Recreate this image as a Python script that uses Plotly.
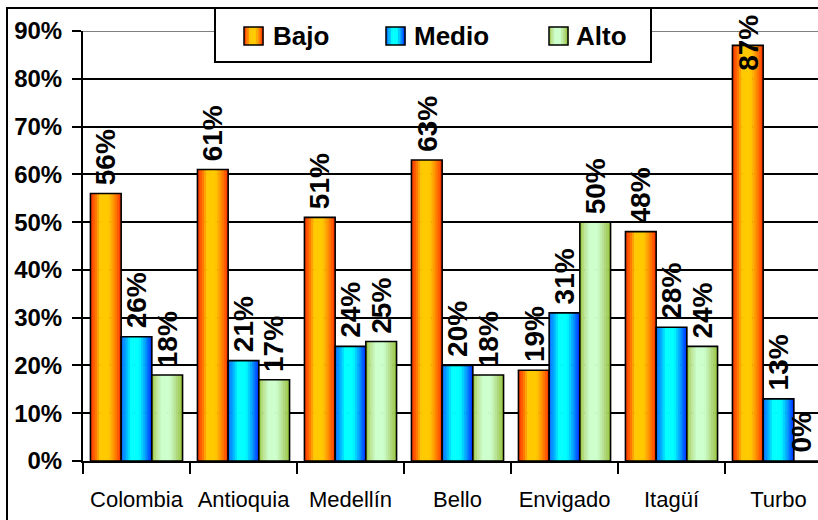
import plotly.graph_objects as go

# Socioeconomic level distribution by territory
categories = ["Colombia", "Antioquia", "Medellín", "Bello", "Envigado", "Itagüí", "Turbo"]
series_names = ["Bajo", "Medio", "Alto"]
bajo = [56, 61, 51, 63, 19, 48, 87]
medio = [26, 21, 24, 20, 31, 28, 13]
alto = [18, 17, 25, 18, 50, 24, 0]
y_ticks = [0, 10, 20, 30, 40, 50, 60, 70, 80, 90]

series_values = [bajo, medio, alto]

# Horizontal gradient stops (position across bar, colour) for each series
gradients = [
    [(0.0, "#FF3300"), (0.15, "#FF6A00"), (0.32, "#FFC800"), (0.58, "#FFCC00"),
     (0.78, "#FF8C00"), (1.0, "#FF3000")],
    [(0.0, "#0A64FF"), (0.15, "#00A8FF"), (0.32, "#00FFFF"), (0.58, "#00FFFF"),
     (0.8, "#0096FF"), (1.0, "#0028FF")],
    [(0.0, "#99C93A"), (0.15, "#BCE294"), (0.32, "#CCFFCC"), (0.58, "#CCFFCC"),
     (0.8, "#B2DA84"), (1.0, "#94C436")],
]


def hex_rgb(h):
    h = h.lstrip("#")
    return tuple(int(h[i:i + 2], 16) for i in (0, 2, 4))


def grad_color(stops, t):
    for (p0, c0), (p1, c1) in zip(stops[:-1], stops[1:]):
        if p0 <= t <= p1:
            f = 0 if p1 == p0 else (t - p0) / (p1 - p0)
            a, b = hex_rgb(c0), hex_rgb(c1)
            r = [round(a[i] + (b[i] - a[i]) * f) for i in range(3)]
            return "rgb({},{},{})".format(*r)
    return stops[-1][1]


# Figure geometry (pixels)
W, H = 818, 520
L, R, T, B = 83, 818, 31, 461
cat_px = 107.0
y_max = 0.9
x_range = [-0.5, -0.5 + (R - L) / cat_px]


def px_x(p):
    return (p - L) / (R - L)


def px_y(p):
    return (B - p) / (B - T)


bar_w = 30.7 / cat_px
group_start = -1.5 * bar_w
n_stripes = 14

fig = go.Figure()

for s, (name, vals, stops) in enumerate(zip(series_names, series_values, gradients)):
    y = [v / 100 for v in vals]
    left = group_start + s * bar_w
    sw = bar_w / n_stripes
    for k in range(n_stripes):
        t = (k + 0.5) / n_stripes
        width = sw * 1.25 if k < n_stripes - 1 else sw
        fig.add_trace(go.Bar(
            x=categories, y=y, offset=left + k * sw, width=width,
            marker=dict(color=grad_color(stops, t), line=dict(width=0)),
            name=name, showlegend=False, hoverinfo="skip",
        ))
    # bar outline
    fig.add_trace(go.Bar(
        x=categories, y=y, offset=left, width=bar_w,
        marker=dict(color="rgba(0,0,0,0)", line=dict(color="black", width=1.6)),
        name=name, showlegend=False,
    ))

# Value labels above each bar, rotated
label_font = dict(family="Liberation Sans, Arial, sans-serif", size=28, color="black", weight="bold")
label_len = 58 / (B - T) * y_max  # approx label length in data units
label_half_thick = 16              # half of rotated label box thickness, px
top_limit = (B - 13) / (B - T) * y_max
annotations = []
for s, vals in enumerate(series_values):
    center = group_start + (s + 0.5) * bar_w
    for i, v in enumerate(vals):
        yv = v / 100
        xpos = i + center
        cx_px = L + (xpos - x_range[0]) * cat_px
        xshift = min(0, (W - 1 - label_half_thick) - cx_px)
        ann = dict(x=xpos, xref="x", text=f"{v}%", textangle=-90, xshift=xshift,
                   showarrow=False, font=label_font, xanchor="center")
        if yv + label_len + 8 / (B - T) * y_max > top_limit:
            ann.update(y=px_y(13), yref="paper", yanchor="top")
        else:
            ann.update(y=yv, yref="y", yanchor="bottom", yshift=6)
        annotations.append(ann)

# Frame, top border line and hand-drawn legend box
shapes = []
shapes.append(dict(type="rect", xref="paper", yref="paper",
                   x0=px_x(7), x1=px_x(840), y0=px_y(540), y1=px_y(8),
                   line=dict(color="black", width=2), fillcolor="rgba(0,0,0,0)", layer="above"))
shapes.append(dict(type="line", xref="paper", yref="y", x0=0, x1=1, y0=y_max, y1=y_max,
                   line=dict(color="#808080", width=2), layer="above"))
shapes.append(dict(type="rect", xref="paper", yref="paper",
                   x0=px_x(215), x1=px_x(651), y0=px_y(62), y1=px_y(8),
                   line=dict(color="black", width=2), fillcolor="white", layer="above"))

legend_items = [(244, 273), (386, 414), (549, 576)]
legend_font = dict(family="Liberation Sans, Arial, sans-serif", size=26, color="black", weight="bold")
n_sw = 8
for (sx, tx), name, stops in zip(legend_items, series_names, gradients):
    sw_w = 19
    for k in range(n_sw):
        t = (k + 0.5) / n_sw
        shapes.append(dict(type="rect", xref="paper", yref="paper",
                           x0=px_x(sx + k * sw_w / n_sw), x1=px_x(sx + (k + 1.2) * sw_w / n_sw),
                           y0=px_y(45), y1=px_y(27),
                           line=dict(width=0), fillcolor=grad_color(stops, t), layer="above"))
    shapes.append(dict(type="rect", xref="paper", yref="paper",
                       x0=px_x(sx), x1=px_x(sx + sw_w), y0=px_y(45), y1=px_y(27),
                       line=dict(color="black", width=1.5), fillcolor="rgba(0,0,0,0)", layer="above"))
    annotations.append(dict(x=px_x(tx - 2), y=px_y(36), xref="paper", yref="paper",
                            text=name, showarrow=False, xanchor="left", yanchor="middle",
                            font=legend_font))

fig.update_layout(
    width=W, height=H,
    margin=dict(l=L, r=W - R, t=T, b=H - B, autoexpand=False),
    barmode="overlay",
    plot_bgcolor="white", paper_bgcolor="white",
    showlegend=False,
    shapes=shapes,
    annotations=annotations,
    xaxis=dict(
        type="category", categoryorder="array", categoryarray=categories,
        range=x_range, tickson="boundaries", ticks="outside", ticklen=11,
        tickwidth=2, tickcolor="black", showline=True, linecolor="black",
        linewidth=2, showgrid=False, ticklabelstandoff=18, tickangle=0,
        automargin=False,
        tickfont=dict(family="Liberation Sans, Arial, sans-serif",
                      size=22, color="black"),
    ),
    yaxis=dict(
        range=[0, y_max], tickvals=[v / 100 for v in y_ticks], tickformat=".0%",
        ticks="outside", ticklen=9, tickwidth=2, tickcolor="black",
        showline=True, linecolor="black", linewidth=2, automargin=False,
        showgrid=True, gridcolor="black", gridwidth=2, zeroline=False,
        ticklabelstandoff=5,
        tickfont=dict(family="Liberation Sans, Arial, sans-serif", size=24, color="black", weight="bold"),
    ),
)

fig.write_html("out.html")
